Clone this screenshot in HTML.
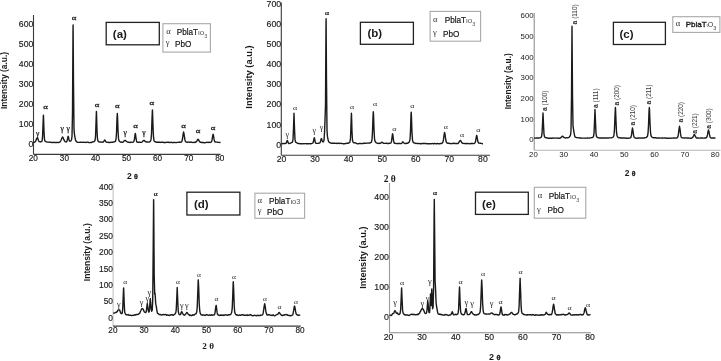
<!DOCTYPE html>
<html><head><meta charset="utf-8"><title>XRD patterns</title>
<style>html,body{margin:0;padding:0;background:#fff;overflow:hidden;}svg{display:block;}</style></head>
<body><svg width="721" height="361" viewBox="0 0 721 361">
<rect width="721" height="361" fill="#fff"/>
<line x1="33.5" y1="15" x2="33.5" y2="154.4" stroke="#3a3a3a" stroke-width="1.1"/>
<line x1="33.5" y1="154.4" x2="220.5" y2="154.4" stroke="#3a3a3a" stroke-width="1.1"/>
<text x="33.3" y="146.84" font-family="'Liberation Sans', Arial, sans-serif" font-size="8.7" font-weight="normal" text-anchor="end" fill="#1a1a1a" stroke="#1a1a1a" stroke-width="0.15" >0</text>
<text x="33.3" y="126.95" font-family="'Liberation Sans', Arial, sans-serif" font-size="8.7" font-weight="normal" text-anchor="end" fill="#1a1a1a" stroke="#1a1a1a" stroke-width="0.15" >100</text>
<text x="33.3" y="107.05" font-family="'Liberation Sans', Arial, sans-serif" font-size="8.7" font-weight="normal" text-anchor="end" fill="#1a1a1a" stroke="#1a1a1a" stroke-width="0.15" >200</text>
<text x="33.3" y="87.14" font-family="'Liberation Sans', Arial, sans-serif" font-size="8.7" font-weight="normal" text-anchor="end" fill="#1a1a1a" stroke="#1a1a1a" stroke-width="0.15" >300</text>
<text x="33.3" y="67.25" font-family="'Liberation Sans', Arial, sans-serif" font-size="8.7" font-weight="normal" text-anchor="end" fill="#1a1a1a" stroke="#1a1a1a" stroke-width="0.15" >400</text>
<text x="33.3" y="47.34" font-family="'Liberation Sans', Arial, sans-serif" font-size="8.7" font-weight="normal" text-anchor="end" fill="#1a1a1a" stroke="#1a1a1a" stroke-width="0.15" >500</text>
<text x="33.3" y="27.44" font-family="'Liberation Sans', Arial, sans-serif" font-size="8.7" font-weight="normal" text-anchor="end" fill="#1a1a1a" stroke="#1a1a1a" stroke-width="0.15" >600</text>
<text x="33.3" y="160.77" font-family="'Liberation Sans', Arial, sans-serif" font-size="8.2" font-weight="normal" text-anchor="middle" fill="#1a1a1a" stroke="#1a1a1a" stroke-width="0.15" >20</text>
<text x="64.4" y="160.77" font-family="'Liberation Sans', Arial, sans-serif" font-size="8.2" font-weight="normal" text-anchor="middle" fill="#1a1a1a" stroke="#1a1a1a" stroke-width="0.15" >30</text>
<text x="95.5" y="160.77" font-family="'Liberation Sans', Arial, sans-serif" font-size="8.2" font-weight="normal" text-anchor="middle" fill="#1a1a1a" stroke="#1a1a1a" stroke-width="0.15" >40</text>
<text x="126.5" y="160.77" font-family="'Liberation Sans', Arial, sans-serif" font-size="8.2" font-weight="normal" text-anchor="middle" fill="#1a1a1a" stroke="#1a1a1a" stroke-width="0.15" >50</text>
<text x="157.6" y="160.77" font-family="'Liberation Sans', Arial, sans-serif" font-size="8.2" font-weight="normal" text-anchor="middle" fill="#1a1a1a" stroke="#1a1a1a" stroke-width="0.15" >60</text>
<text x="188.7" y="160.77" font-family="'Liberation Sans', Arial, sans-serif" font-size="8.2" font-weight="normal" text-anchor="middle" fill="#1a1a1a" stroke="#1a1a1a" stroke-width="0.15" >70</text>
<text x="219.8" y="160.77" font-family="'Liberation Sans', Arial, sans-serif" font-size="8.2" font-weight="normal" text-anchor="middle" fill="#1a1a1a" stroke="#1a1a1a" stroke-width="0.15" >80</text>
<polyline points="33.5,142.17 34.0,142.32 34.5,142.31 35.0,141.91 35.5,141.37 36.0,140.35 36.5,139.06 37.0,137.95 37.2,137.78 37.5,138.01 38.0,139.24 38.5,140.51 39.0,141.49 39.5,141.67 40.0,141.83 40.5,141.94 41.0,141.69 41.5,141.62 42.0,141.03 42.5,137.71 43.0,125.34 43.4,115.18 43.5,116.12 44.0,131.85 44.5,139.53 45.0,141.13 45.5,141.47 46.0,141.7 46.5,141.92 47.0,142.08 47.5,142.08 48.0,142.08 48.5,142.08 49.0,142.18 49.5,142.18 50.0,142.07 50.5,142.33 51.0,142.38 51.5,142.44 52.0,142.3 52.5,142.53 53.0,142.62 53.5,142.38 54.0,142.31 54.5,142.43 55.0,142.49 55.5,142.61 56.0,142.48 56.5,142.55 57.0,142.52 57.5,142.35 58.0,142.34 58.5,142.44 59.0,142.44 59.5,142.22 60.0,141.95 60.5,141.21 61.0,140.26 61.5,139.19 62.0,137.8 62.5,137.0 62.6,136.99 63.0,137.38 63.5,138.66 64.0,139.9 64.5,140.89 65.0,141.5 65.5,141.89 66.0,141.93 66.5,141.75 67.0,141.11 67.5,139.04 68.0,136.62 68.2,136.28 68.5,137.05 69.0,139.67 69.5,141.04 70.0,141.2 70.5,141.05 71.0,140.76 71.5,139.7 72.0,136.54 72.5,113.11 73.0,30.87 73.1,25.0 73.5,82.34 74.0,129.08 74.4,134.01 74.5,134.59 75.0,137.57 75.5,140.07 76.0,141.0 76.5,141.65 77.0,142.0 77.5,142.23 78.0,142.32 78.5,142.42 79.0,142.37 79.5,142.37 80.0,142.32 80.5,142.15 81.0,142.37 81.5,142.4 82.0,142.26 82.5,142.31 83.0,142.33 83.5,142.29 84.0,142.27 84.5,142.33 85.0,142.41 85.5,142.45 86.0,142.41 86.5,142.21 87.0,142.17 87.5,142.13 88.0,142.26 88.5,142.45 89.0,142.54 89.5,142.58 90.0,142.61 90.5,142.4 91.0,142.49 91.5,142.46 92.0,142.19 92.5,141.97 93.0,141.79 93.5,141.91 94.0,141.65 94.5,141.2 95.0,140.54 95.5,137.04 96.0,123.04 96.4,111.44 96.5,112.49 97.0,130.36 97.5,139.03 98.0,141.01 98.5,141.57 99.0,141.79 99.5,141.98 100.0,141.91 100.5,142.02 101.0,142.1 101.5,142.06 102.0,141.99 102.5,142.25 103.0,142.18 103.5,141.76 104.0,141.06 104.5,140.15 104.7,139.97 105.0,140.23 105.5,141.0 106.0,141.9 106.5,142.05 107.0,142.28 107.5,142.39 108.0,142.4 108.5,142.27 109.0,142.49 109.5,142.55 110.0,142.47 110.5,142.3 111.0,142.36 111.5,142.28 112.0,142.29 112.5,142.17 113.0,142.19 113.5,141.93 114.0,141.81 114.5,141.89 115.0,141.72 115.5,141.01 116.0,139.5 116.5,132.98 117.0,118.57 117.3,113.34 117.5,115.86 118.0,130.56 118.5,138.4 119.0,140.79 119.5,141.25 120.0,141.76 120.5,142.12 121.0,142.18 121.5,142.05 122.0,142.22 122.5,142.31 123.0,142.11 123.5,141.68 124.0,141.08 124.5,140.52 125.0,140.27 125.5,140.55 126.0,141.05 126.5,141.46 127.0,141.72 127.5,142.09 128.0,142.14 128.5,142.23 129.0,142.21 129.5,142.42 130.0,142.55 130.5,142.27 131.0,142.17 131.5,142.15 132.0,142.38 132.5,142.41 133.0,142.19 133.5,141.86 134.0,141.2 134.5,138.83 135.0,134.64 135.3,133.42 135.5,134.0 136.0,138.11 136.5,140.97 137.0,142.13 137.5,142.17 138.0,142.34 138.5,142.17 139.0,142.1 139.5,142.35 140.0,142.22 140.5,142.35 141.0,142.33 141.5,142.34 142.0,142.01 142.5,141.56 143.0,140.98 143.5,140.57 144.0,140.32 144.5,140.58 145.0,141.35 145.5,141.58 146.0,141.94 146.5,141.94 147.0,141.88 147.5,141.82 148.0,142.06 148.5,142.13 149.0,142.13 149.5,141.82 150.0,141.57 150.5,141.12 151.0,139.61 151.5,134.11 152.0,119.28 152.4,109.96 152.5,110.7 153.0,126.24 153.5,137.21 154.0,140.55 154.5,141.34 155.0,141.62 155.5,141.99 156.0,142.23 156.5,142.05 157.0,142.22 157.5,142.1 158.0,142.05 158.5,142.33 159.0,142.17 159.5,142.15 160.0,142.45 160.5,142.4 161.0,142.25 161.5,142.19 162.0,142.18 162.5,142.38 163.0,142.24 163.5,142.49 164.0,142.42 164.5,142.62 165.0,142.71 165.5,142.53 166.0,142.4 166.5,142.41 167.0,142.27 167.5,142.4 168.0,142.24 168.5,142.13 169.0,142.45 169.5,142.37 170.0,142.44 170.5,142.43 171.0,142.36 171.5,142.22 172.0,142.48 172.5,142.66 173.0,142.76 173.5,142.48 174.0,142.35 174.5,142.43 175.0,142.62 175.5,142.56 176.0,142.58 176.5,142.58 177.0,142.41 177.5,142.42 178.0,142.32 178.5,142.23 179.0,142.09 179.5,142.07 180.0,142.32 180.5,142.21 181.0,142.14 181.5,141.86 182.0,141.09 182.5,138.73 183.0,135.0 183.5,132.19 183.6,132.08 184.0,133.58 184.5,137.49 185.0,140.2 185.5,141.46 186.0,141.97 186.5,142.18 187.0,142.29 187.5,142.22 188.0,142.1 188.5,142.11 189.0,142.06 189.5,142.22 190.0,142.12 190.5,142.07 191.0,142.26 191.5,142.24 192.0,142.42 192.5,142.41 193.0,142.55 193.5,142.34 194.0,142.35 194.5,142.46 195.0,142.21 195.5,142.34 196.0,141.93 196.5,141.56 197.0,140.88 197.5,139.73 198.0,139.22 198.5,139.66 199.0,140.59 199.5,141.62 200.0,141.99 200.5,142.38 201.0,142.27 201.5,142.5 202.0,142.28 202.5,142.27 203.0,142.5 203.5,142.59 204.0,142.69 204.5,142.73 205.0,142.71 205.5,142.67 206.0,142.45 206.5,142.41 207.0,142.28 207.5,142.42 208.0,142.47 208.5,142.33 209.0,142.16 209.5,142.41 210.0,142.46 210.5,142.35 211.0,142.16 211.5,141.77 212.0,140.16 212.5,137.05 213.0,134.39 213.1,134.27 213.5,135.67 214.0,138.91 214.5,141.05 215.0,141.92 215.5,142.0 216.0,142.11 216.5,142.09 217.0,142.08 217.5,142.12 218.0,142.38 218.5,142.37 219.0,142.36 219.5,142.45 220.0,142.35 220.5,142.2" fill="none" stroke="#1a1a1a" stroke-width="1.4" stroke-linejoin="round"/>
<text x="37.8" y="136.15" font-family="'Liberation Serif', 'Times New Roman', serif" font-size="7.6" font-weight="normal" text-anchor="middle" fill="#1a1a1a" stroke="#1a1a1a" stroke-width="0.25">γ</text>
<text transform="translate(45.5 108.56) scale(1.3 1)" font-family="'Liberation Serif', 'Times New Roman', serif" font-size="6.8" font-weight="normal" text-anchor="middle" fill="#1a1a1a" stroke="#1a1a1a" stroke-width="0.25">α</text>
<text x="62.3" y="131.15" font-family="'Liberation Serif', 'Times New Roman', serif" font-size="7.6" font-weight="normal" text-anchor="middle" fill="#1a1a1a" stroke="#1a1a1a" stroke-width="0.25">γ</text>
<text x="68.3" y="131.15" font-family="'Liberation Serif', 'Times New Roman', serif" font-size="7.6" font-weight="normal" text-anchor="middle" fill="#1a1a1a" stroke="#1a1a1a" stroke-width="0.25">γ</text>
<text transform="translate(74 20.36) scale(1.3 1)" font-family="'Liberation Serif', 'Times New Roman', serif" font-size="6.8" font-weight="normal" text-anchor="middle" fill="#1a1a1a" stroke="#1a1a1a" stroke-width="0.25">α</text>
<text transform="translate(97 107.26) scale(1.3 1)" font-family="'Liberation Serif', 'Times New Roman', serif" font-size="6.8" font-weight="normal" text-anchor="middle" fill="#1a1a1a" stroke="#1a1a1a" stroke-width="0.25">α</text>
<text transform="translate(117.4 107.76) scale(1.3 1)" font-family="'Liberation Serif', 'Times New Roman', serif" font-size="6.8" font-weight="normal" text-anchor="middle" fill="#1a1a1a" stroke="#1a1a1a" stroke-width="0.25">α</text>
<text x="125.3" y="134.75" font-family="'Liberation Serif', 'Times New Roman', serif" font-size="7.6" font-weight="normal" text-anchor="middle" fill="#1a1a1a" stroke="#1a1a1a" stroke-width="0.25">γ</text>
<text transform="translate(135.5 128.46) scale(1.3 1)" font-family="'Liberation Serif', 'Times New Roman', serif" font-size="6.8" font-weight="normal" text-anchor="middle" fill="#1a1a1a" stroke="#1a1a1a" stroke-width="0.25">α</text>
<text x="144" y="134.85" font-family="'Liberation Serif', 'Times New Roman', serif" font-size="7.6" font-weight="normal" text-anchor="middle" fill="#1a1a1a" stroke="#1a1a1a" stroke-width="0.25">γ</text>
<text transform="translate(151.9 105.36) scale(1.3 1)" font-family="'Liberation Serif', 'Times New Roman', serif" font-size="6.8" font-weight="normal" text-anchor="middle" fill="#1a1a1a" stroke="#1a1a1a" stroke-width="0.25">α</text>
<text transform="translate(183.6 127.66) scale(1.3 1)" font-family="'Liberation Serif', 'Times New Roman', serif" font-size="6.8" font-weight="normal" text-anchor="middle" fill="#1a1a1a" stroke="#1a1a1a" stroke-width="0.25">α</text>
<text transform="translate(198 132.56) scale(1.3 1)" font-family="'Liberation Serif', 'Times New Roman', serif" font-size="6.8" font-weight="normal" text-anchor="middle" fill="#1a1a1a" stroke="#1a1a1a" stroke-width="0.25">α</text>
<text transform="translate(213.1 130.36) scale(1.3 1)" font-family="'Liberation Serif', 'Times New Roman', serif" font-size="6.8" font-weight="normal" text-anchor="middle" fill="#1a1a1a" stroke="#1a1a1a" stroke-width="0.25">α</text>
<text transform="translate(6.94 80.5) rotate(-90)" font-family="'Liberation Sans', Arial, sans-serif" font-size="8.45" font-weight="bold" text-anchor="middle" fill="#1a1a1a">Intensity (a.u.)</text>
<text x="132.4" y="179.21" font-family="'Liberation Sans', Arial, sans-serif" font-size="8.6" font-weight="bold" text-anchor="middle" fill="#1a1a1a">2 <tspan font-size="7.05" stroke="#1a1a1a" stroke-width="0.3">θ</tspan></text>
<rect x="106.2" y="22.4" width="53.1" height="22.4" fill="none" stroke="#222" stroke-width="1.3"/>
<text x="112.8" y="37.75" font-family="'Liberation Sans', Arial, sans-serif" font-size="11.5" font-weight="bold" text-anchor="start" fill="#1a1a1a" >(a)</text>
<rect x="162.9" y="23.7" width="47.5" height="28.4" fill="none" stroke="#a8a8a8" stroke-width="1.1"/>
<text transform="translate(168.4 34.33) scale(1.15 1)" font-family="'Liberation Serif', 'Times New Roman', serif" font-size="7.5" text-anchor="middle" fill="#333">α</text>
<text x="176.7" y="35.47" font-family="'Liberation Sans', Arial, sans-serif" font-size="8.2" font-weight="normal" fill="#1a1a1a" stroke="#1a1a1a" stroke-width="0.2">PblaT<tspan font-size="8" font-weight="normal" fill="#555" stroke="none">ιo</tspan><tspan font-size="5.5" dy="2.6" fill="#555" font-weight="normal" stroke="none">3</tspan></text>
<text x="167.7" y="45.36" font-family="'Liberation Serif', 'Times New Roman', serif" font-size="8.5" text-anchor="middle" fill="#333">γ</text>
<text x="175" y="47.17" font-family="'Liberation Sans', Arial, sans-serif" font-size="8.2" fill="#1a1a1a" stroke="#1a1a1a" stroke-width="0.2">PbO</text>
<line x1="281.3" y1="2.5" x2="281.3" y2="155.2" stroke="#3a3a3a" stroke-width="1.1"/>
<line x1="281.3" y1="155.2" x2="490" y2="155.2" stroke="#3a3a3a" stroke-width="1.1"/>
<text x="281.2" y="147.68" font-family="'Liberation Sans', Arial, sans-serif" font-size="8.8" font-weight="normal" text-anchor="end" fill="#1a1a1a" stroke="#1a1a1a" stroke-width="0.15" >0</text>
<text x="281.2" y="127.58" font-family="'Liberation Sans', Arial, sans-serif" font-size="8.8" font-weight="normal" text-anchor="end" fill="#1a1a1a" stroke="#1a1a1a" stroke-width="0.15" >100</text>
<text x="281.2" y="107.48" font-family="'Liberation Sans', Arial, sans-serif" font-size="8.8" font-weight="normal" text-anchor="end" fill="#1a1a1a" stroke="#1a1a1a" stroke-width="0.15" >200</text>
<text x="281.2" y="87.38" font-family="'Liberation Sans', Arial, sans-serif" font-size="8.8" font-weight="normal" text-anchor="end" fill="#1a1a1a" stroke="#1a1a1a" stroke-width="0.15" >300</text>
<text x="281.2" y="67.28" font-family="'Liberation Sans', Arial, sans-serif" font-size="8.8" font-weight="normal" text-anchor="end" fill="#1a1a1a" stroke="#1a1a1a" stroke-width="0.15" >400</text>
<text x="281.2" y="47.18" font-family="'Liberation Sans', Arial, sans-serif" font-size="8.8" font-weight="normal" text-anchor="end" fill="#1a1a1a" stroke="#1a1a1a" stroke-width="0.15" >500</text>
<text x="281.2" y="27.18" font-family="'Liberation Sans', Arial, sans-serif" font-size="8.8" font-weight="normal" text-anchor="end" fill="#1a1a1a" stroke="#1a1a1a" stroke-width="0.15" >600</text>
<text x="281.2" y="7.08" font-family="'Liberation Sans', Arial, sans-serif" font-size="8.8" font-weight="normal" text-anchor="end" fill="#1a1a1a" stroke="#1a1a1a" stroke-width="0.15" >700</text>
<text x="281.5" y="162.21" font-family="'Liberation Sans', Arial, sans-serif" font-size="8.6" font-weight="normal" text-anchor="middle" fill="#1a1a1a" stroke="#1a1a1a" stroke-width="0.15" >20</text>
<text x="315.1" y="162.21" font-family="'Liberation Sans', Arial, sans-serif" font-size="8.6" font-weight="normal" text-anchor="middle" fill="#1a1a1a" stroke="#1a1a1a" stroke-width="0.15" >30</text>
<text x="348.6" y="162.21" font-family="'Liberation Sans', Arial, sans-serif" font-size="8.6" font-weight="normal" text-anchor="middle" fill="#1a1a1a" stroke="#1a1a1a" stroke-width="0.15" >40</text>
<text x="382.2" y="162.21" font-family="'Liberation Sans', Arial, sans-serif" font-size="8.6" font-weight="normal" text-anchor="middle" fill="#1a1a1a" stroke="#1a1a1a" stroke-width="0.15" >50</text>
<text x="415.7" y="162.21" font-family="'Liberation Sans', Arial, sans-serif" font-size="8.6" font-weight="normal" text-anchor="middle" fill="#1a1a1a" stroke="#1a1a1a" stroke-width="0.15" >60</text>
<text x="449.3" y="162.21" font-family="'Liberation Sans', Arial, sans-serif" font-size="8.6" font-weight="normal" text-anchor="middle" fill="#1a1a1a" stroke="#1a1a1a" stroke-width="0.15" >70</text>
<text x="482.9" y="162.21" font-family="'Liberation Sans', Arial, sans-serif" font-size="8.6" font-weight="normal" text-anchor="middle" fill="#1a1a1a" stroke="#1a1a1a" stroke-width="0.15" >80</text>
<polyline points="281.5,143.74 282.0,143.84 282.5,143.54 283.0,143.37 283.5,143.56 284.0,143.63 284.5,143.63 285.0,143.47 285.5,143.45 286.0,143.27 286.5,142.49 287.0,140.94 287.3,140.48 287.5,140.69 288.0,142.16 288.5,143.26 289.0,143.6 289.5,143.52 290.0,143.4 290.5,143.21 291.0,142.94 291.5,142.67 292.0,142.47 292.5,141.83 293.0,139.43 293.5,128.45 294.0,113.31 294.5,128.45 295.0,139.53 295.5,141.8 296.0,142.47 296.5,142.72 297.0,143.01 297.5,143.38 298.0,143.47 298.5,143.34 299.0,143.55 299.5,143.65 300.0,143.68 300.5,143.77 301.0,143.77 301.5,143.79 302.0,143.62 302.5,143.77 303.0,143.86 303.5,143.59 304.0,143.67 304.5,143.7 305.0,143.61 305.5,143.59 306.0,143.56 306.5,143.72 307.0,143.64 307.5,143.72 308.0,143.58 308.5,143.7 309.0,143.78 309.5,143.65 310.0,143.6 310.5,143.71 311.0,143.68 311.5,143.56 312.0,143.34 312.5,143.18 313.0,142.9 313.5,141.26 314.0,138.6 314.3,137.69 314.5,138.14 315.0,140.86 315.5,142.84 316.0,143.36 316.5,143.39 317.0,143.38 317.5,143.41 318.0,143.39 318.5,143.24 319.0,143.06 319.5,142.95 320.0,142.66 320.5,141.41 321.0,139.35 321.4,138.51 321.5,138.56 322.0,140.14 322.5,141.41 323.0,142.05 323.5,141.55 324.0,140.27 324.5,133.02 325.0,119.97 325.5,105.19 326.0,24.57 326.1,18.79 326.5,80.23 327.0,130.4 327.4,135.97 327.5,136.64 328.0,139.33 328.5,141.32 329.0,142.1 329.5,142.55 330.0,142.7 330.5,143.0 331.0,142.96 331.5,143.29 332.0,143.13 332.5,143.33 333.0,143.17 333.5,143.18 334.0,143.41 334.5,143.29 335.0,143.24 335.5,143.41 336.0,143.39 336.5,143.25 337.0,143.54 337.5,143.39 338.0,143.25 338.5,143.29 339.0,143.42 339.5,143.55 340.0,143.38 340.5,143.37 341.0,143.23 341.5,143.32 342.0,143.5 342.5,143.59 343.0,143.71 343.5,143.72 344.0,143.77 344.5,143.73 345.0,143.61 345.5,143.43 346.0,143.48 346.5,143.36 347.0,143.18 347.5,143.18 348.0,143.31 348.5,143.02 349.0,142.9 349.5,142.52 350.0,141.76 350.5,138.23 351.0,124.64 351.4,113.29 351.5,114.3 352.0,131.76 352.5,140.24 353.0,142.1 353.5,142.55 354.0,142.72 354.5,142.81 355.0,142.92 355.5,142.96 356.0,143.21 356.5,143.32 357.0,143.57 357.5,143.71 358.0,143.82 358.5,143.58 359.0,143.53 359.5,143.42 360.0,143.49 360.5,143.54 361.0,143.65 361.5,143.67 362.0,143.5 362.5,143.47 363.0,143.49 363.5,143.29 364.0,143.18 364.5,143.26 365.0,143.18 365.5,143.37 366.0,143.29 366.5,143.17 367.0,143.12 367.5,143.1 368.0,143.06 368.5,143.13 369.0,143.11 369.5,142.98 370.0,142.95 370.5,142.63 371.0,142.48 371.5,141.89 372.0,139.62 372.5,131.77 373.0,116.7 373.3,111.72 373.5,114.06 374.0,128.95 374.5,138.4 375.0,141.24 375.5,142.02 376.0,142.66 376.5,142.86 377.0,143.05 377.5,143.34 378.0,143.39 378.5,143.3 379.0,143.53 379.5,143.42 380.0,143.2 380.5,143.25 381.0,142.83 381.5,142.48 382.0,142.21 382.5,142.55 383.0,142.9 383.5,143.22 384.0,143.33 384.5,143.4 385.0,143.32 385.5,143.42 386.0,143.28 386.5,143.28 387.0,143.3 387.5,143.54 388.0,143.34 388.5,143.47 389.0,143.31 389.5,143.35 390.0,143.25 390.5,143.14 391.0,142.9 391.5,141.42 392.0,137.62 392.5,133.91 392.6,133.74 393.0,135.91 393.5,140.28 394.0,142.67 394.5,143.3 395.0,143.21 395.5,143.38 396.0,143.53 396.5,143.6 397.0,143.55 397.5,143.47 398.0,143.46 398.5,143.59 399.0,143.45 399.5,143.47 400.0,143.45 400.5,143.62 401.0,143.6 401.5,143.47 402.0,142.97 402.5,142.0 402.8,141.79 403.0,141.87 403.5,142.38 404.0,142.95 404.5,143.31 405.0,143.53 405.5,143.5 406.0,143.55 406.5,143.26 407.0,143.17 407.5,143.31 408.0,142.98 408.5,142.77 409.0,142.27 409.5,141.48 410.0,139.43 410.5,130.97 411.0,114.87 411.2,112.09 411.5,117.73 412.0,133.15 412.5,140.17 413.0,142.03 413.5,142.58 414.0,142.9 414.5,142.93 415.0,143.13 415.5,143.42 416.0,143.53 416.5,143.33 417.0,143.39 417.5,143.51 418.0,143.41 418.5,143.6 419.0,143.55 419.5,143.62 420.0,143.54 420.5,143.74 421.0,143.77 421.5,143.71 422.0,143.5 422.5,143.49 423.0,143.33 423.5,143.46 424.0,143.65 424.5,143.48 425.0,143.52 425.5,143.53 426.0,143.5 426.5,143.61 427.0,143.76 427.5,143.76 428.0,143.67 428.5,143.81 429.0,143.64 429.5,143.71 430.0,143.71 430.5,143.76 431.0,143.82 431.5,143.61 432.0,143.63 432.5,143.56 433.0,143.63 433.5,143.79 434.0,143.75 434.5,143.47 435.0,143.49 435.5,143.59 436.0,143.72 436.5,143.7 437.0,143.76 437.5,143.47 438.0,143.66 438.5,143.68 439.0,143.64 439.5,143.72 440.0,143.75 440.5,143.43 441.0,143.5 441.5,143.47 442.0,143.14 442.5,142.91 443.0,141.94 443.5,139.4 444.0,135.68 444.5,132.59 444.6,132.5 445.0,134.05 445.5,137.92 446.0,141.06 446.5,142.5 447.0,142.91 447.5,143.34 448.0,143.22 448.5,143.12 449.0,143.26 449.5,143.49 450.0,143.56 450.5,143.64 451.0,143.59 451.5,143.63 452.0,143.52 452.5,143.43 453.0,143.47 453.5,143.3 454.0,143.22 454.5,143.44 455.0,143.34 455.5,143.5 456.0,143.61 456.5,143.51 457.0,143.54 457.5,143.57 458.0,143.52 458.5,142.97 459.0,142.23 459.5,141.36 460.0,140.66 460.3,140.47 460.5,140.52 461.0,141.16 461.5,142.31 462.0,142.88 462.5,143.26 463.0,143.36 463.5,143.41 464.0,143.61 464.5,143.5 465.0,143.58 465.5,143.56 466.0,143.57 466.5,143.72 467.0,143.48 467.5,143.64 468.0,143.52 468.5,143.59 469.0,143.69 469.5,143.69 470.0,143.58 470.5,143.7 471.0,143.46 471.5,143.53 472.0,143.47 472.5,143.47 473.0,143.59 473.5,143.62 474.0,143.52 474.5,143.25 475.0,142.74 475.5,141.52 476.0,138.68 476.5,135.76 476.7,135.42 477.0,136.23 477.5,139.56 478.0,141.94 478.5,142.9 479.0,143.15 479.5,143.14 480.0,143.27 480.5,143.24 481.0,143.34 481.5,143.34 482.0,143.58 482.5,143.74 483.0,143.64" fill="none" stroke="#1a1a1a" stroke-width="1.4" stroke-linejoin="round"/>
<text x="287.3" y="136.8" font-family="'Liberation Serif', 'Times New Roman', serif" font-size="8" font-weight="normal" text-anchor="middle" fill="#1a1a1a">γ</text>
<text transform="translate(295 109.62) scale(1.2 1)" font-family="'Liberation Serif', 'Times New Roman', serif" font-size="6.6" font-weight="normal" text-anchor="middle" fill="#1a1a1a">α</text>
<text x="314.3" y="133.0" font-family="'Liberation Serif', 'Times New Roman', serif" font-size="8" font-weight="normal" text-anchor="middle" fill="#1a1a1a">γ</text>
<text x="321.4" y="130.1" font-family="'Liberation Serif', 'Times New Roman', serif" font-size="8" font-weight="normal" text-anchor="middle" fill="#1a1a1a">γ</text>
<text transform="translate(327.1 15.12) scale(1.2 1)" font-family="'Liberation Serif', 'Times New Roman', serif" font-size="6.6" font-weight="normal" text-anchor="middle" fill="#1a1a1a" stroke="#1a1a1a" stroke-width="0.25">α</text>
<text transform="translate(352 108.52) scale(1.2 1)" font-family="'Liberation Serif', 'Times New Roman', serif" font-size="6.6" font-weight="normal" text-anchor="middle" fill="#1a1a1a">α</text>
<text transform="translate(375 105.92) scale(1.2 1)" font-family="'Liberation Serif', 'Times New Roman', serif" font-size="6.6" font-weight="normal" text-anchor="middle" fill="#1a1a1a">α</text>
<text transform="translate(394.2 130.72) scale(1.2 1)" font-family="'Liberation Serif', 'Times New Roman', serif" font-size="6.6" font-weight="normal" text-anchor="middle" fill="#1a1a1a">α</text>
<text transform="translate(412.2 108.12) scale(1.2 1)" font-family="'Liberation Serif', 'Times New Roman', serif" font-size="6.6" font-weight="normal" text-anchor="middle" fill="#1a1a1a">α</text>
<text transform="translate(445.9 128.72) scale(1.2 1)" font-family="'Liberation Serif', 'Times New Roman', serif" font-size="6.6" font-weight="normal" text-anchor="middle" fill="#1a1a1a">α</text>
<text transform="translate(462 136.92) scale(1.2 1)" font-family="'Liberation Serif', 'Times New Roman', serif" font-size="6.6" font-weight="normal" text-anchor="middle" fill="#1a1a1a">α</text>
<text transform="translate(478.3 132.02) scale(1.2 1)" font-family="'Liberation Serif', 'Times New Roman', serif" font-size="6.6" font-weight="normal" text-anchor="middle" fill="#1a1a1a">α</text>
<text transform="translate(252.0 77) rotate(-90)" font-family="'Liberation Sans', Arial, sans-serif" font-size="9.35" font-weight="bold" text-anchor="middle" fill="#1a1a1a">Intensity (a.u.)</text>
<text x="389.7" y="181.73" font-family="'Liberation Serif', 'Times New Roman', serif" font-size="9.5" font-weight="bold" text-anchor="middle" fill="#1a1a1a" >2 θ</text>
<rect x="360.4" y="22.3" width="53.0" height="22.0" fill="none" stroke="#222" stroke-width="1.3"/>
<text x="367.4" y="37.45" font-family="'Liberation Sans', Arial, sans-serif" font-size="11.5" font-weight="bold" text-anchor="start" fill="#1a1a1a" >(b)</text>
<rect x="430.1" y="11.4" width="50.5" height="29.8" fill="none" stroke="#a8a8a8" stroke-width="1.1"/>
<text transform="translate(435.3 21.93) scale(1.15 1)" font-family="'Liberation Serif', 'Times New Roman', serif" font-size="7.5" text-anchor="middle" fill="#333">α</text>
<text x="444.7" y="23.07" font-family="'Liberation Sans', Arial, sans-serif" font-size="8.2" font-weight="normal" fill="#1a1a1a" stroke="#1a1a1a" stroke-width="0.2">PblaT<tspan font-size="8" font-weight="normal" fill="#555" stroke="none">ιo</tspan><tspan font-size="5.5" dy="2.6" fill="#555" font-weight="normal" stroke="none">3</tspan></text>
<text x="435" y="35.36" font-family="'Liberation Serif', 'Times New Roman', serif" font-size="8.5" text-anchor="middle" fill="#333">γ</text>
<text x="443" y="37.17" font-family="'Liberation Sans', Arial, sans-serif" font-size="8.2" fill="#1a1a1a" stroke="#1a1a1a" stroke-width="0.2">PbO</text>
<line x1="534.2" y1="13" x2="534.2" y2="150.3" stroke="#909090" stroke-width="1.1"/>
<line x1="534.2" y1="150.3" x2="720.5" y2="150.3" stroke="#b4b4b4" stroke-width="1.1"/>
<text x="533.6" y="142.13" font-family="'Liberation Sans', Arial, sans-serif" font-size="7.8" font-weight="normal" text-anchor="end" fill="#1a1a1a" >0</text>
<text x="533.6" y="121.53" font-family="'Liberation Sans', Arial, sans-serif" font-size="7.8" font-weight="normal" text-anchor="end" fill="#1a1a1a" >100</text>
<text x="533.6" y="100.83" font-family="'Liberation Sans', Arial, sans-serif" font-size="7.8" font-weight="normal" text-anchor="end" fill="#1a1a1a" >200</text>
<text x="533.6" y="80.23" font-family="'Liberation Sans', Arial, sans-serif" font-size="7.8" font-weight="normal" text-anchor="end" fill="#1a1a1a" >300</text>
<text x="533.6" y="59.53" font-family="'Liberation Sans', Arial, sans-serif" font-size="7.8" font-weight="normal" text-anchor="end" fill="#1a1a1a" >400</text>
<text x="533.6" y="38.93" font-family="'Liberation Sans', Arial, sans-serif" font-size="7.8" font-weight="normal" text-anchor="end" fill="#1a1a1a" >500</text>
<text x="533.6" y="18.23" font-family="'Liberation Sans', Arial, sans-serif" font-size="7.8" font-weight="normal" text-anchor="end" fill="#1a1a1a" >600</text>
<text x="533.4" y="157.23" font-family="'Liberation Sans', Arial, sans-serif" font-size="7.8" font-weight="normal" text-anchor="middle" fill="#1a1a1a" >20</text>
<text x="563.7" y="157.23" font-family="'Liberation Sans', Arial, sans-serif" font-size="7.8" font-weight="normal" text-anchor="middle" fill="#1a1a1a" >30</text>
<text x="594.0" y="157.23" font-family="'Liberation Sans', Arial, sans-serif" font-size="7.8" font-weight="normal" text-anchor="middle" fill="#1a1a1a" >40</text>
<text x="624.3" y="157.23" font-family="'Liberation Sans', Arial, sans-serif" font-size="7.8" font-weight="normal" text-anchor="middle" fill="#1a1a1a" >50</text>
<text x="654.6" y="157.23" font-family="'Liberation Sans', Arial, sans-serif" font-size="7.8" font-weight="normal" text-anchor="middle" fill="#1a1a1a" >60</text>
<text x="684.9" y="157.23" font-family="'Liberation Sans', Arial, sans-serif" font-size="7.8" font-weight="normal" text-anchor="middle" fill="#1a1a1a" >70</text>
<text x="715.2" y="157.23" font-family="'Liberation Sans', Arial, sans-serif" font-size="7.8" font-weight="normal" text-anchor="middle" fill="#1a1a1a" >80</text>
<polyline points="534,138.07 534.5,138.11 535.0,138.07 535.5,138.12 536.0,138.14 536.5,138.0 537.0,137.89 537.5,138.04 538.0,137.95 538.5,137.88 539.0,138.02 539.5,137.91 540.0,137.89 540.5,137.66 541.0,137.37 541.5,136.57 542.0,133.99 542.5,124.21 543.0,113.01 543.5,124.21 544.0,134.1 544.5,136.56 545.0,137.33 545.5,137.65 546.0,137.74 546.5,137.73 547.0,137.96 547.5,137.99 548.0,138.09 548.5,138.19 549.0,138.21 549.5,138.29 550.0,138.19 550.5,138.24 551.0,138.18 551.5,138.28 552.0,138.32 552.5,138.13 553.0,138.03 553.5,137.99 554.0,138.17 554.5,138.13 555.0,138.16 555.5,138.09 556.0,138.1 556.5,138.07 557.0,138.04 557.5,138.08 558.0,138.1 558.5,138.19 559.0,138.17 559.5,138.2 560.0,138.13 560.5,137.99 561.0,137.6 561.5,136.94 562.0,136.45 562.5,136.24 563.0,136.46 563.5,137.04 564.0,137.48 564.5,137.65 565.0,137.91 565.5,137.95 566.0,137.86 566.5,137.72 567.0,137.83 567.5,137.9 568.0,137.63 568.5,137.58 569.0,137.31 569.5,136.86 570.0,136.2 570.5,135.03 571.0,130.99 571.5,97.84 572.0,26.2 572.5,94.92 573.0,125.43 573.3,127.99 573.5,129.18 574.0,132.58 574.5,135.19 575.0,136.78 575.5,137.29 576.0,137.43 576.5,137.65 577.0,137.63 577.5,137.67 578.0,137.77 578.5,137.89 579.0,137.85 579.5,137.79 580.0,138.0 580.5,137.97 581.0,138.14 581.5,138.22 582.0,138.13 582.5,138.1 583.0,138.1 583.5,138.14 584.0,138.14 584.5,138.14 585.0,138.15 585.5,138.25 586.0,138.18 586.5,138.12 587.0,138.16 587.5,138.05 588.0,137.99 588.5,138.14 589.0,138.09 589.5,138.06 590.0,137.88 590.5,137.86 591.0,137.86 591.5,137.66 592.0,137.63 592.5,137.5 593.0,137.03 593.5,136.34 594.0,133.35 594.5,122.24 595.0,109.5 595.5,122.24 596.0,133.48 596.5,136.3 597.0,136.98 597.5,137.44 598.0,137.79 598.5,137.8 599.0,137.87 599.5,137.96 600.0,137.94 600.5,137.95 601.0,137.94 601.5,137.96 602.0,138.03 602.5,137.99 603.0,137.99 603.5,138.11 604.0,137.96 604.5,138.03 605.0,138.12 605.5,138.05 606.0,137.98 606.5,138.1 607.0,138.0 607.5,137.93 608.0,137.95 608.5,138.03 609.0,137.89 609.5,137.86 610.0,137.83 610.5,137.92 611.0,137.83 611.5,137.85 612.0,137.59 612.5,137.37 613.0,137.12 613.5,136.63 614.0,134.89 614.5,128.81 615.0,115.23 615.4,107.49 615.5,108.08 616.0,121.4 616.5,132.19 617.0,135.74 617.5,136.74 618.0,137.3 618.5,137.58 619.0,137.81 619.5,137.82 620.0,137.78 620.5,137.81 621.0,137.98 621.5,137.94 622.0,137.94 622.5,137.96 623.0,137.98 623.5,137.99 624.0,138.14 624.5,138.02 625.0,137.9 625.5,138.1 626.0,138.19 626.5,138.28 627.0,138.17 627.5,138.24 628.0,138.27 628.5,138.08 629.0,138.09 629.5,138.09 630.0,137.99 630.5,137.75 631.0,137.02 631.5,134.89 632.0,130.82 632.5,127.96 633.0,130.82 633.5,134.83 634.0,137.04 634.5,137.54 635.0,137.89 635.5,138.01 636.0,138.15 636.5,138.22 637.0,138.27 637.5,138.21 638.0,138.02 638.5,138.11 639.0,138.0 639.5,137.97 640.0,138.05 640.5,138.06 641.0,138.02 641.5,138.14 642.0,138.12 642.5,138.02 643.0,137.92 643.5,138.01 644.0,137.94 644.5,137.95 645.0,137.79 645.5,137.6 646.0,137.48 646.5,137.34 647.0,136.82 647.5,136.06 648.0,133.47 648.5,125.5 649.0,111.75 649.3,107.5 649.5,109.51 650.0,122.96 650.5,132.23 651.0,135.6 651.5,136.63 652.0,137.15 652.5,137.42 653.0,137.61 653.5,137.82 654.0,137.74 654.5,137.72 655.0,137.74 655.5,137.75 656.0,137.75 656.5,138.01 657.0,138.14 657.5,138.01 658.0,138.05 658.5,138.02 659.0,138.01 659.5,138.01 660.0,138.1 660.5,138.13 661.0,138.1 661.5,138.03 662.0,138.02 662.5,137.96 663.0,138.05 663.5,138.15 664.0,138.11 664.5,138.01 665.0,137.97 665.5,138.01 666.0,138.09 666.5,138.19 667.0,138.14 667.5,138.23 668.0,138.23 668.5,138.18 669.0,138.13 669.5,138.13 670.0,138.19 670.5,138.14 671.0,138.19 671.5,138.15 672.0,138.07 672.5,138.09 673.0,138.15 673.5,138.0 674.0,138.0 674.5,137.99 675.0,138.1 675.5,138.16 676.0,138.01 676.5,138.02 677.0,137.9 677.5,137.41 678.0,136.29 678.5,133.38 679.0,129.02 679.5,126.31 680.0,129.04 680.5,133.65 681.0,136.42 681.5,137.53 682.0,137.84 682.5,137.82 683.0,137.94 683.5,137.86 684.0,137.85 684.5,138.02 685.0,137.93 685.5,137.89 686.0,137.86 686.5,138.07 687.0,138.0 687.5,137.91 688.0,138.09 688.5,137.99 689.0,138.13 689.5,138.17 690.0,138.22 690.5,138.28 691.0,138.2 691.5,138.18 692.0,137.87 692.5,137.67 693.0,136.99 693.5,135.94 694.0,134.74 694.3,134.51 694.5,134.64 695.0,135.57 695.5,136.69 696.0,137.49 696.5,137.94 697.0,137.97 697.5,137.94 698.0,137.94 698.5,138.05 699.0,138.15 699.5,138.11 700.0,138.08 700.5,138.07 701.0,138.05 701.5,138.05 702.0,137.96 702.5,138.01 703.0,138.17 703.5,138.11 704.0,138.15 704.5,137.99 705.0,138.03 705.5,138.03 706.0,137.93 706.5,137.59 707.0,136.68 707.5,134.7 708.0,131.73 708.5,130.0 709.0,131.68 709.5,134.64 710.0,136.77 710.5,137.61 711.0,137.86 711.5,138.03 712.0,137.97 712.5,137.96 713.0,137.94 713.5,138.04 714.0,138.03 714.5,138.0 715.0,138.11 715.5,138.26" fill="none" stroke="#1a1a1a" stroke-width="1.4" stroke-linejoin="round"/>
<text transform="translate(511.08 81.3) rotate(-90)" font-family="'Liberation Sans', Arial, sans-serif" font-size="8.25" font-weight="bold" text-anchor="middle" fill="#1a1a1a">Intensity (a.u.)</text>
<text x="630" y="175.64" font-family="'Liberation Sans', Arial, sans-serif" font-size="8.4" font-weight="bold" text-anchor="middle" fill="#1a1a1a">2 <tspan font-size="6.89" stroke="#1a1a1a" stroke-width="0.3">θ</tspan></text>
<rect x="613.4" y="22.3" width="52.0" height="22.2" fill="none" stroke="#222" stroke-width="1.3"/>
<text x="619.5" y="38.05" font-family="'Liberation Sans', Arial, sans-serif" font-size="11.5" font-weight="bold" text-anchor="start" fill="#1a1a1a" >(c)</text>
<rect x="672.8" y="16.7" width="47.1" height="15.7" fill="none" stroke="#a8a8a8" stroke-width="1.1"/>
<text transform="translate(678 26.23) scale(1.15 1)" font-family="'Liberation Serif', 'Times New Roman', serif" font-size="7.5" text-anchor="middle" fill="#333">α</text>
<text x="685.7" y="27.3" font-family="'Liberation Sans', Arial, sans-serif" font-size="8" font-weight="normal" fill="#1a1a1a" stroke="#1a1a1a" stroke-width="0.35">PblaT<tspan font-size="5.5" fill="#444" stroke="none" dy="0">ι</tspan><tspan font-size="7" fill="#333" stroke="none" dy="0">O</tspan><tspan font-size="5.5" fill="#444" stroke="none" dy="2.6">3</tspan></text>
<line x1="113.1" y1="183.3" x2="113.1" y2="326.1" stroke="#c4c4c4" stroke-width="1.1"/>
<line x1="113.1" y1="326.1" x2="300.8" y2="326.1" stroke="#3a3a3a" stroke-width="1.1"/>
<text x="113" y="320.74" font-family="'Liberation Sans', Arial, sans-serif" font-size="8.4" font-weight="normal" text-anchor="end" fill="#1a1a1a" stroke="#1a1a1a" stroke-width="0.15" >0</text>
<text x="113" y="304.34" font-family="'Liberation Sans', Arial, sans-serif" font-size="8.4" font-weight="normal" text-anchor="end" fill="#1a1a1a" stroke="#1a1a1a" stroke-width="0.15" >50</text>
<text x="113" y="287.94" font-family="'Liberation Sans', Arial, sans-serif" font-size="8.4" font-weight="normal" text-anchor="end" fill="#1a1a1a" stroke="#1a1a1a" stroke-width="0.15" >100</text>
<text x="113" y="271.54" font-family="'Liberation Sans', Arial, sans-serif" font-size="8.4" font-weight="normal" text-anchor="end" fill="#1a1a1a" stroke="#1a1a1a" stroke-width="0.15" >150</text>
<text x="113" y="255.14" font-family="'Liberation Sans', Arial, sans-serif" font-size="8.4" font-weight="normal" text-anchor="end" fill="#1a1a1a" stroke="#1a1a1a" stroke-width="0.15" >200</text>
<text x="113" y="238.84" font-family="'Liberation Sans', Arial, sans-serif" font-size="8.4" font-weight="normal" text-anchor="end" fill="#1a1a1a" stroke="#1a1a1a" stroke-width="0.15" >250</text>
<text x="113" y="222.44" font-family="'Liberation Sans', Arial, sans-serif" font-size="8.4" font-weight="normal" text-anchor="end" fill="#1a1a1a" stroke="#1a1a1a" stroke-width="0.15" >300</text>
<text x="113" y="206.04" font-family="'Liberation Sans', Arial, sans-serif" font-size="8.4" font-weight="normal" text-anchor="end" fill="#1a1a1a" stroke="#1a1a1a" stroke-width="0.15" >350</text>
<text x="113" y="189.64" font-family="'Liberation Sans', Arial, sans-serif" font-size="8.4" font-weight="normal" text-anchor="end" fill="#1a1a1a" stroke="#1a1a1a" stroke-width="0.15" >400</text>
<text x="112.9" y="333.37" font-family="'Liberation Sans', Arial, sans-serif" font-size="8.2" font-weight="normal" text-anchor="middle" fill="#1a1a1a" stroke="#1a1a1a" stroke-width="0.15" >20</text>
<text x="144.1" y="333.37" font-family="'Liberation Sans', Arial, sans-serif" font-size="8.2" font-weight="normal" text-anchor="middle" fill="#1a1a1a" stroke="#1a1a1a" stroke-width="0.15" >30</text>
<text x="175.3" y="333.37" font-family="'Liberation Sans', Arial, sans-serif" font-size="8.2" font-weight="normal" text-anchor="middle" fill="#1a1a1a" stroke="#1a1a1a" stroke-width="0.15" >40</text>
<text x="206.5" y="333.37" font-family="'Liberation Sans', Arial, sans-serif" font-size="8.2" font-weight="normal" text-anchor="middle" fill="#1a1a1a" stroke="#1a1a1a" stroke-width="0.15" >50</text>
<text x="237.7" y="333.37" font-family="'Liberation Sans', Arial, sans-serif" font-size="8.2" font-weight="normal" text-anchor="middle" fill="#1a1a1a" stroke="#1a1a1a" stroke-width="0.15" >60</text>
<text x="268.9" y="333.37" font-family="'Liberation Sans', Arial, sans-serif" font-size="8.2" font-weight="normal" text-anchor="middle" fill="#1a1a1a" stroke="#1a1a1a" stroke-width="0.15" >70</text>
<text x="300.1" y="333.37" font-family="'Liberation Sans', Arial, sans-serif" font-size="8.2" font-weight="normal" text-anchor="middle" fill="#1a1a1a" stroke="#1a1a1a" stroke-width="0.15" >80</text>
<polyline points="113.2,313.36 113.7,313.08 114.2,313.09 114.7,312.83 115.2,312.47 115.7,312.34 116.2,312.44 116.7,312.11 117.2,311.59 117.7,310.6 118.2,310.11 118.7,309.87 119.2,309.97 119.7,309.91 120.2,311.91 120.7,312.96 121.2,313.54 121.7,313.71 122.2,313.17 122.7,309.08 123.2,296.67 123.6,287.91 123.7,288.69 124.2,303.35 124.7,312.1 125.2,313.66 125.7,314.35 126.2,314.76 126.7,314.86 127.2,314.67 127.7,314.79 128.2,314.57 128.7,315.12 129.2,315.39 129.7,315.31 130.2,315.06 130.7,315.4 131.2,315.34 131.7,315.54 132.2,315.64 132.7,315.42 133.2,315.21 133.7,315.23 134.2,315.1 134.7,314.79 135.2,314.72 135.7,315.06 136.2,314.64 136.7,314.35 137.2,314.6 137.7,314.4 138.2,314.35 138.7,314.07 139.2,313.5 139.7,313.29 140.2,312.03 140.7,310.94 141.2,309.66 141.7,308.99 142.2,308.57 142.3,308.55 142.7,308.79 143.2,309.36 143.7,310.43 144.2,311.78 144.7,312.2 145.2,312.51 145.7,312.58 146.2,311.75 146.7,308.0 147.2,303.74 147.3,303.55 147.7,305.84 148.2,310.32 148.7,312.16 149.2,311.69 149.7,306.66 150.2,299.07 150.3,298.7 150.7,302.84 151.2,309.59 151.7,311.23 152.2,310.26 152.7,301.38 153.2,249.04 153.6,199.59 153.7,203.9 154.2,274.86 154.7,294.2 155.0,292.96 155.2,295.24 155.7,303.67 156.2,305.94 156.7,309.13 157.2,312.31 157.7,313.43 158.2,313.73 158.7,313.93 159.2,314.55 159.7,314.6 160.2,314.58 160.7,314.43 161.2,315.06 161.7,315.0 162.2,314.79 162.7,314.56 163.2,314.42 163.7,314.43 164.2,314.85 164.7,314.68 165.2,314.49 165.7,314.74 166.2,314.7 166.7,315.28 167.2,314.92 167.7,315.03 168.2,315.29 168.7,315.16 169.2,315.54 169.7,315.35 170.2,315.05 170.7,314.99 171.2,314.65 171.7,314.75 172.2,314.65 172.7,315.08 173.2,315.26 173.7,315.06 174.2,314.5 174.7,314.22 175.2,313.82 175.7,313.0 176.2,310.1 176.7,299.86 177.2,287.54 177.7,299.74 178.2,310.58 178.7,313.49 179.2,314.56 179.7,314.56 180.2,314.72 180.7,314.01 181.2,312.43 181.7,311.59 182.2,312.46 182.7,313.62 183.2,314.22 183.7,314.89 184.2,315.17 184.7,315.2 185.2,314.48 185.7,313.93 186.2,313.36 186.7,312.52 186.9,312.49 187.2,312.58 187.7,313.42 188.2,314.17 188.7,314.41 189.2,315.09 189.7,315.48 190.2,314.98 190.7,315.38 191.2,315.6 191.7,315.48 192.2,314.9 192.7,315.22 193.2,314.76 193.7,315.12 194.2,315.04 194.7,314.42 195.2,314.01 195.7,313.93 196.2,313.43 196.7,312.11 197.2,307.39 197.7,294.43 198.2,280.33 198.3,279.82 198.7,287.69 199.2,303.05 199.7,310.36 200.2,313.13 200.7,314.15 201.2,314.76 201.7,314.86 202.2,315.2 202.7,314.88 203.2,315.08 203.7,314.93 204.2,315.3 204.7,315.44 205.2,315.29 205.7,315.25 206.2,314.83 206.7,314.58 207.2,314.89 207.7,314.99 208.2,315.35 208.7,315.36 209.2,314.99 209.7,314.95 210.2,315.25 210.7,315.23 211.2,314.8 211.7,315.2 212.2,315.41 212.7,314.93 213.2,314.98 213.7,314.83 214.2,314.93 214.7,314.07 215.2,311.62 215.7,307.43 216.1,305.36 216.2,305.43 216.7,309.27 217.2,312.92 217.7,314.72 218.2,315.02 218.7,315.03 219.2,315.37 219.7,315.51 220.2,315.03 220.7,315.39 221.2,315.06 221.7,314.95 222.2,315.31 222.7,315.19 223.2,315.42 223.7,315.05 224.2,315.39 224.7,315.04 225.2,314.8 225.7,314.92 226.2,314.86 226.7,314.98 227.2,315.33 227.7,315.36 228.2,314.79 228.7,314.67 229.2,314.73 229.7,314.65 230.2,314.68 230.7,314.34 231.2,313.49 231.7,312.26 232.2,308.67 232.7,296.82 233.2,282.39 233.3,281.8 233.7,290.27 234.2,305.45 234.7,311.94 235.2,313.51 235.7,314.48 236.2,314.66 236.7,315.13 237.2,314.93 237.7,315.28 238.2,315.43 238.7,315.4 239.2,315.25 239.7,314.92 240.2,315.24 240.7,315.1 241.2,315.27 241.7,314.95 242.2,314.72 242.7,314.63 243.2,315.11 243.7,314.9 244.2,315.35 244.7,315.2 245.2,315.27 245.7,315.14 246.2,315.28 246.7,314.94 247.2,314.98 247.7,315.44 248.2,315.1 248.7,315.28 249.2,315.13 249.7,315.02 250.2,314.73 250.7,314.55 251.2,315.19 251.7,315.48 252.2,315.62 252.7,315.72 253.2,315.89 253.7,315.36 254.2,315.38 254.7,315.31 255.2,315.34 255.7,315.64 256.2,315.68 256.7,315.87 257.2,315.3 257.7,315.37 258.2,315.44 258.7,315.52 259.2,315.46 259.7,315.58 260.2,315.22 260.7,315.47 261.2,315.17 261.7,315.09 262.2,315.14 262.7,314.61 263.2,312.9 263.7,309.76 264.2,305.93 264.7,303.79 265.2,306.05 265.7,310.45 266.2,313.05 266.7,314.26 267.2,315.0 267.7,314.91 268.2,314.93 268.7,314.63 269.2,314.59 269.7,314.86 270.2,315.14 270.7,315.26 271.2,315.12 271.7,315.52 272.2,315.49 272.7,315.1 273.2,314.8 273.7,315.34 274.2,315.67 274.7,315.81 275.2,315.63 275.7,315.28 276.2,314.86 276.7,314.67 277.2,314.34 277.7,314.36 278.2,313.86 278.7,312.77 279.1,312.4 279.2,312.38 279.7,312.92 280.2,314.02 280.7,314.35 281.2,315.04 281.7,315.3 282.2,315.32 282.7,315.65 283.2,315.29 283.7,315.28 284.2,314.99 284.7,314.76 285.2,314.57 285.7,314.69 286.2,314.6 286.7,314.5 287.2,315.18 287.7,315.02 288.2,315.4 288.7,315.48 289.2,315.54 289.7,315.5 290.2,315.71 290.7,315.75 291.2,315.62 291.7,315.35 292.2,315.17 292.7,314.67 293.2,313.1 293.7,310.15 294.2,306.74 294.5,306.03 294.7,306.37 295.2,309.0 295.7,311.92 296.2,314.1 296.7,314.55 297.2,314.76 297.7,315.08 298.2,315.42 298.7,315.19 299.2,315.11 299.7,315.1 300.2,314.77" fill="none" stroke="#1a1a1a" stroke-width="1.4" stroke-linejoin="round"/>
<text x="118.7" y="306.62" font-family="'Liberation Serif', 'Times New Roman', serif" font-size="8.2" font-weight="normal" text-anchor="middle" fill="#1a1a1a">γ</text>
<text transform="translate(125.2 284.03) scale(1.2 1)" font-family="'Liberation Serif', 'Times New Roman', serif" font-size="6.2" font-weight="normal" text-anchor="middle" fill="#1a1a1a">α</text>
<text x="141.6" y="305.22" font-family="'Liberation Serif', 'Times New Roman', serif" font-size="8.2" font-weight="normal" text-anchor="middle" fill="#1a1a1a">γ</text>
<text x="147.3" y="300.82" font-family="'Liberation Serif', 'Times New Roman', serif" font-size="8.2" font-weight="normal" text-anchor="middle" fill="#1a1a1a">γ</text>
<text x="149.3" y="294.62" font-family="'Liberation Serif', 'Times New Roman', serif" font-size="8.2" font-weight="normal" text-anchor="middle" fill="#1a1a1a">γ</text>
<text transform="translate(155.6 196.23) scale(1.2 1)" font-family="'Liberation Serif', 'Times New Roman', serif" font-size="6.2" font-weight="normal" text-anchor="middle" fill="#1a1a1a" stroke="#1a1a1a" stroke-width="0.25">α</text>
<text transform="translate(178 284.43) scale(1.2 1)" font-family="'Liberation Serif', 'Times New Roman', serif" font-size="6.2" font-weight="normal" text-anchor="middle" fill="#1a1a1a">α</text>
<text x="181.7" y="308.22" font-family="'Liberation Serif', 'Times New Roman', serif" font-size="8.2" font-weight="normal" text-anchor="middle" fill="#1a1a1a">γ</text>
<text x="186.9" y="308.22" font-family="'Liberation Serif', 'Times New Roman', serif" font-size="8.2" font-weight="normal" text-anchor="middle" fill="#1a1a1a">γ</text>
<text transform="translate(199 277.23) scale(1.2 1)" font-family="'Liberation Serif', 'Times New Roman', serif" font-size="6.2" font-weight="normal" text-anchor="middle" fill="#1a1a1a">α</text>
<text transform="translate(216.5 300.63) scale(1.2 1)" font-family="'Liberation Serif', 'Times New Roman', serif" font-size="6.2" font-weight="normal" text-anchor="middle" fill="#1a1a1a">α</text>
<text transform="translate(234 279.03) scale(1.2 1)" font-family="'Liberation Serif', 'Times New Roman', serif" font-size="6.2" font-weight="normal" text-anchor="middle" fill="#1a1a1a">α</text>
<text transform="translate(265 300.63) scale(1.2 1)" font-family="'Liberation Serif', 'Times New Roman', serif" font-size="6.2" font-weight="normal" text-anchor="middle" fill="#1a1a1a">α</text>
<text transform="translate(279.5 308.83) scale(1.2 1)" font-family="'Liberation Serif', 'Times New Roman', serif" font-size="6.2" font-weight="normal" text-anchor="middle" fill="#1a1a1a">α</text>
<text transform="translate(296 304.33) scale(1.2 1)" font-family="'Liberation Serif', 'Times New Roman', serif" font-size="6.2" font-weight="normal" text-anchor="middle" fill="#1a1a1a">α</text>
<text transform="translate(89.86 252.2) rotate(-90)" font-family="'Liberation Sans', Arial, sans-serif" font-size="8.55" font-weight="bold" text-anchor="middle" fill="#1a1a1a">Intensity (a.u.)</text>
<text x="208.2" y="348.94" font-family="'Liberation Serif', 'Times New Roman', serif" font-size="9.2" font-weight="bold" text-anchor="middle" fill="#1a1a1a" >2 θ</text>
<rect x="186.9" y="192.2" width="53.0" height="22.8" fill="none" stroke="#222" stroke-width="1.3"/>
<text x="194" y="207.75" font-family="'Liberation Sans', Arial, sans-serif" font-size="11.5" font-weight="bold" text-anchor="start" fill="#1a1a1a" >(d)</text>
<rect x="254.9" y="193.2" width="49.7" height="25.1" fill="none" stroke="#a8a8a8" stroke-width="1.1"/>
<text transform="translate(259.7 202.72) scale(1.15 1)" font-family="'Liberation Serif', 'Times New Roman', serif" font-size="7.5" text-anchor="middle" fill="#333">α</text>
<text x="269" y="203.87" font-family="'Liberation Sans', Arial, sans-serif" font-size="8.2" font-weight="normal" fill="#1a1a1a" stroke="#1a1a1a" stroke-width="0.2">PblaT<tspan font-size="7.5" font-weight="normal" fill="#555" stroke="none">ιo3</tspan><tspan font-size="5.5" dy="2.6" fill="#555" font-weight="normal" stroke="none"></tspan></text>
<text x="259.7" y="213.06" font-family="'Liberation Serif', 'Times New Roman', serif" font-size="8.5" text-anchor="middle" fill="#333">γ</text>
<text x="267" y="214.87" font-family="'Liberation Sans', Arial, sans-serif" font-size="8.2" fill="#1a1a1a" stroke="#1a1a1a" stroke-width="0.2">PbO</text>
<line x1="389.5" y1="183" x2="389.5" y2="332.8" stroke="#9a9a9a" stroke-width="1.1"/>
<line x1="389.5" y1="332.8" x2="591" y2="332.8" stroke="#8a8a8a" stroke-width="1.1"/>
<text x="389" y="319.88" font-family="'Liberation Sans', Arial, sans-serif" font-size="8.8" font-weight="normal" text-anchor="end" fill="#1a1a1a" stroke="#1a1a1a" stroke-width="0.15" >0</text>
<text x="389" y="289.98" font-family="'Liberation Sans', Arial, sans-serif" font-size="8.8" font-weight="normal" text-anchor="end" fill="#1a1a1a" stroke="#1a1a1a" stroke-width="0.15" >100</text>
<text x="389" y="259.98" font-family="'Liberation Sans', Arial, sans-serif" font-size="8.8" font-weight="normal" text-anchor="end" fill="#1a1a1a" stroke="#1a1a1a" stroke-width="0.15" >200</text>
<text x="389" y="230.08" font-family="'Liberation Sans', Arial, sans-serif" font-size="8.8" font-weight="normal" text-anchor="end" fill="#1a1a1a" stroke="#1a1a1a" stroke-width="0.15" >300</text>
<text x="389" y="200.18" font-family="'Liberation Sans', Arial, sans-serif" font-size="8.8" font-weight="normal" text-anchor="end" fill="#1a1a1a" stroke="#1a1a1a" stroke-width="0.15" >400</text>
<text x="388.5" y="339.71" font-family="'Liberation Sans', Arial, sans-serif" font-size="8.6" font-weight="normal" text-anchor="middle" fill="#1a1a1a" stroke="#1a1a1a" stroke-width="0.15" >20</text>
<text x="422.1" y="339.71" font-family="'Liberation Sans', Arial, sans-serif" font-size="8.6" font-weight="normal" text-anchor="middle" fill="#1a1a1a" stroke="#1a1a1a" stroke-width="0.15" >30</text>
<text x="455.7" y="339.71" font-family="'Liberation Sans', Arial, sans-serif" font-size="8.6" font-weight="normal" text-anchor="middle" fill="#1a1a1a" stroke="#1a1a1a" stroke-width="0.15" >40</text>
<text x="489.3" y="339.71" font-family="'Liberation Sans', Arial, sans-serif" font-size="8.6" font-weight="normal" text-anchor="middle" fill="#1a1a1a" stroke="#1a1a1a" stroke-width="0.15" >50</text>
<text x="522.9" y="339.71" font-family="'Liberation Sans', Arial, sans-serif" font-size="8.6" font-weight="normal" text-anchor="middle" fill="#1a1a1a" stroke="#1a1a1a" stroke-width="0.15" >60</text>
<text x="556.5" y="339.71" font-family="'Liberation Sans', Arial, sans-serif" font-size="8.6" font-weight="normal" text-anchor="middle" fill="#1a1a1a" stroke="#1a1a1a" stroke-width="0.15" >70</text>
<text x="590.1" y="339.71" font-family="'Liberation Sans', Arial, sans-serif" font-size="8.6" font-weight="normal" text-anchor="middle" fill="#1a1a1a" stroke="#1a1a1a" stroke-width="0.15" >80</text>
<polyline points="389.6,315.03 390.1,315.17 390.6,315.3 391.1,315.48 391.6,315.42 392.1,314.31 392.6,313.63 393.1,313.47 393.6,313.44 394.1,312.49 394.6,311.03 394.9,310.6 395.1,310.74 395.6,311.65 396.1,312.79 396.6,313.33 397.1,313.05 397.6,312.97 398.1,314.13 398.6,314.54 399.1,314.55 399.6,313.86 400.1,313.42 400.6,310.24 401.1,299.91 401.6,287.84 402.1,299.8 402.6,310.38 403.1,313.0 403.6,313.6 404.1,314.47 404.6,314.89 405.1,314.68 405.6,315.09 406.1,315.01 406.6,315.08 407.1,314.74 407.6,315.14 408.1,315.17 408.6,315.42 409.1,315.51 409.6,315.08 410.1,314.88 410.6,314.6 411.1,314.41 411.6,314.23 412.1,314.31 412.6,314.6 413.1,314.29 413.6,314.63 414.1,314.56 414.6,314.49 415.1,314.84 415.6,314.77 416.1,314.58 416.6,314.57 417.1,314.7 417.6,314.19 418.1,314.52 418.6,313.77 419.1,313.64 419.6,313.27 420.1,311.94 420.6,311.26 421.1,310.06 421.6,309.23 422.1,308.58 422.3,308.48 422.6,308.58 423.1,309.29 423.6,309.96 424.1,311.26 424.6,312.48 425.1,313.37 425.6,313.46 426.1,313.39 426.6,312.7 427.1,309.16 427.6,302.08 427.8,301.02 428.1,303.31 428.6,310.33 429.1,312.49 429.6,312.43 430.1,303.9 430.5,293.96 430.6,294.76 431.1,305.48 431.6,293.04 431.8,289.07 432.1,296.77 432.6,308.76 433.1,307.38 433.6,287.44 434.1,216.02 434.3,199.38 434.6,229.6 435.1,281.28 435.4,285.98 435.6,290.5 436.1,303.07 436.5,306.02 436.6,306.48 437.1,309.37 437.6,312.21 438.1,313.76 438.6,314.11 439.1,314.24 439.6,314.02 440.1,314.6 440.6,314.26 441.1,314.43 441.6,314.82 442.1,314.5 442.6,314.79 443.1,315.15 443.6,315.11 444.1,315.22 444.6,314.75 445.1,314.73 445.6,314.49 446.1,314.9 446.6,314.71 447.1,314.72 447.6,315.17 448.1,315.31 448.6,315.5 449.1,315.18 449.6,315.01 450.1,315.08 450.6,314.87 451.1,314.36 451.6,313.36 452.1,311.95 452.3,311.74 452.6,312.29 453.1,314.2 453.6,314.86 454.1,314.88 454.6,314.68 455.1,314.33 455.6,314.24 456.1,314.54 456.6,314.71 457.1,314.27 457.6,314.09 458.1,313.26 458.6,309.29 459.1,296.11 459.5,286.98 459.6,287.69 460.1,302.62 460.6,311.19 461.1,313.33 461.6,314.17 462.1,314.52 462.6,314.4 463.1,314.83 463.6,314.82 464.1,314.68 464.6,313.8 465.1,312.5 465.6,309.73 466,308.4 466.1,308.5 466.6,311.23 467.1,313.63 467.6,314.68 468.1,314.6 468.6,314.67 469.1,314.65 469.6,314.45 470.1,313.53 470.6,312.9 471.1,311.86 471.5,311.59 471.6,311.65 472.1,312.8 472.6,313.37 473.1,313.98 473.6,314.11 474.1,314.68 474.6,315.06 475.1,314.89 475.6,314.93 476.1,314.96 476.6,314.96 477.1,314.48 477.6,314.62 478.1,314.47 478.6,314.32 479.1,313.83 479.6,313.3 480.1,311.98 480.6,307.06 481.1,294.5 481.6,280.66 481.7,280.03 482.1,287.86 482.6,302.79 483.1,310.12 483.6,312.75 484.1,313.67 484.6,313.67 485.1,314.02 485.6,314.04 486.1,313.93 486.6,313.94 487.1,314.1 487.6,314.08 488.1,314.08 488.6,313.93 489.1,314.11 489.6,314.01 490.1,313.9 490.6,313.56 491.1,313.09 491.5,313.04 491.6,312.95 492.1,313.06 492.6,313.48 493.1,313.98 493.6,314.07 494.1,314.68 494.6,314.66 495.1,314.37 495.6,314.65 496.1,314.4 496.6,314.6 497.1,314.55 497.6,314.7 498.1,315.06 498.6,315.13 499.1,314.75 499.6,314.4 500.1,312.54 500.6,308.67 501,306.85 501.1,307.02 501.6,310.18 502.1,313.54 502.6,314.93 503.1,315.07 503.6,314.87 504.1,315.18 504.6,314.65 505.1,314.41 505.6,314.64 506.1,314.81 506.6,314.53 507.1,314.74 507.6,315.07 508.1,314.84 508.6,314.69 509.1,314.34 509.6,313.98 510.1,313.98 510.6,313.14 511.1,312.58 511.5,312.41 511.6,312.39 512.1,312.75 512.6,313.77 513.1,314.19 513.6,314.4 514.1,314.41 514.6,314.9 515.1,314.76 515.6,314.47 516.1,314.39 516.6,313.98 517.1,314.01 517.6,313.67 518.1,312.94 518.6,311.68 519.1,306.27 519.6,291.24 520.1,278.28 520.6,291.24 521.1,306.17 521.6,311.96 522.1,313.2 522.6,313.63 523.1,313.76 523.6,314.52 524.1,314.43 524.6,314.64 525.1,314.68 525.6,314.84 526.1,314.92 526.6,315.08 527.1,314.69 527.6,314.97 528.1,314.77 528.6,314.85 529.1,314.74 529.6,314.64 530.1,314.77 530.6,314.8 531.1,314.74 531.6,315.01 532.1,315.05 532.6,314.63 533.1,314.56 533.6,314.67 534.1,315.11 534.6,315.35 535.1,315.23 535.6,314.72 536.1,315.03 536.6,314.94 537.1,315.0 537.6,315.15 538.1,315.17 538.6,315.06 539.1,315.34 539.6,315.09 540.1,314.94 540.6,315.22 541.1,314.86 541.6,314.72 542.1,315.06 542.6,314.64 543.1,315.0 543.6,315.09 544.1,314.89 544.6,314.53 545.1,314.31 545.6,313.61 546.1,312.33 546.2,312.29 546.6,312.75 547.1,313.8 547.6,314.34 548.1,314.35 548.6,314.62 549.1,314.93 549.6,314.5 550.1,314.34 550.6,314.67 551.1,314.74 551.6,314.38 552.1,312.72 552.6,310.31 553.1,306.44 553.6,304.23 554.1,306.47 554.6,310.24 555.1,313.19 555.6,314.03 556.1,314.58 556.6,315.06 557.1,315.15 557.6,314.75 558.1,314.64 558.6,315.08 559.1,314.73 559.6,314.89 560.1,314.83 560.6,314.6 561.1,314.83 561.6,314.51 562.1,314.36 562.6,314.5 563.1,314.33 563.6,314.22 564.1,314.56 564.6,314.9 565.1,315.21 565.6,314.79 566.1,314.76 566.6,314.62 567.1,314.66 567.6,314.37 568.1,314.18 568.6,313.25 569,312.94 569.1,313.01 569.6,313.17 570.1,314.04 570.6,314.52 571.1,315.09 571.6,315.1 572.1,315.14 572.6,314.87 573.1,314.94 573.6,314.75 574.1,315.03 574.6,315.01 575.1,314.7 575.6,314.59 576.1,314.63 576.6,314.95 577.1,314.69 577.6,314.96 578.1,315.07 578.6,314.68 579.1,314.91 579.6,314.58 580.1,314.41 580.6,314.67 581.1,314.53 581.6,314.94 582.1,314.84 582.6,314.61 583.1,314.72 583.6,313.77 584.1,312.73 584.6,310.0 585.1,307.98 585.3,307.81 585.6,308.44 586.1,310.77 586.6,312.7 587.1,314.35 587.6,314.83 588.1,315.14 588.6,314.76 589.1,314.93 589.6,314.81 590.1,314.65 590.6,314.63" fill="none" stroke="#1a1a1a" stroke-width="1.4" stroke-linejoin="round"/>
<text x="395" y="305.05" font-family="'Liberation Serif', 'Times New Roman', serif" font-size="8.4" font-weight="normal" text-anchor="middle" fill="#1a1a1a">γ</text>
<text transform="translate(402 284.52) scale(1.2 1)" font-family="'Liberation Serif', 'Times New Roman', serif" font-size="6.6" font-weight="normal" text-anchor="middle" fill="#1a1a1a">α</text>
<text x="422.3" y="305.65" font-family="'Liberation Serif', 'Times New Roman', serif" font-size="8.4" font-weight="normal" text-anchor="middle" fill="#1a1a1a">γ</text>
<text x="427.5" y="301.45" font-family="'Liberation Serif', 'Times New Roman', serif" font-size="8.4" font-weight="normal" text-anchor="middle" fill="#1a1a1a">γ</text>
<text x="429.8" y="284.45" font-family="'Liberation Serif', 'Times New Roman', serif" font-size="8.4" font-weight="normal" text-anchor="middle" fill="#1a1a1a">γ</text>
<text transform="translate(435 195.32) scale(1.2 1)" font-family="'Liberation Serif', 'Times New Roman', serif" font-size="6.6" font-weight="normal" text-anchor="middle" fill="#1a1a1a" stroke="#1a1a1a" stroke-width="0.25">α</text>
<text transform="translate(460.6 283.52) scale(1.2 1)" font-family="'Liberation Serif', 'Times New Roman', serif" font-size="6.6" font-weight="normal" text-anchor="middle" fill="#1a1a1a">α</text>
<text x="466.4" y="305.05" font-family="'Liberation Serif', 'Times New Roman', serif" font-size="8.4" font-weight="normal" text-anchor="middle" fill="#1a1a1a">γ</text>
<text x="472.2" y="306.05" font-family="'Liberation Serif', 'Times New Roman', serif" font-size="8.4" font-weight="normal" text-anchor="middle" fill="#1a1a1a">γ</text>
<text transform="translate(483 275.72) scale(1.2 1)" font-family="'Liberation Serif', 'Times New Roman', serif" font-size="6.6" font-weight="normal" text-anchor="middle" fill="#1a1a1a">α</text>
<text x="491.7" y="305.85" font-family="'Liberation Serif', 'Times New Roman', serif" font-size="8.4" font-weight="normal" text-anchor="middle" fill="#1a1a1a">γ</text>
<text transform="translate(500.6 303.52) scale(1.2 1)" font-family="'Liberation Serif', 'Times New Roman', serif" font-size="6.6" font-weight="normal" text-anchor="middle" fill="#1a1a1a">α</text>
<text transform="translate(520.5 273.72) scale(1.2 1)" font-family="'Liberation Serif', 'Times New Roman', serif" font-size="6.6" font-weight="normal" text-anchor="middle" fill="#1a1a1a">α</text>
<text transform="translate(553.6 299.72) scale(1.2 1)" font-family="'Liberation Serif', 'Times New Roman', serif" font-size="6.6" font-weight="normal" text-anchor="middle" fill="#1a1a1a">α</text>
<text transform="translate(569.5 309.52) scale(1.2 1)" font-family="'Liberation Serif', 'Times New Roman', serif" font-size="6.6" font-weight="normal" text-anchor="middle" fill="#1a1a1a">α</text>
<text transform="translate(588 306.72) scale(1.2 1)" font-family="'Liberation Serif', 'Times New Roman', serif" font-size="6.6" font-weight="normal" text-anchor="middle" fill="#1a1a1a">α</text>
<text transform="translate(366.36 257.7) rotate(-90)" font-family="'Liberation Sans', Arial, sans-serif" font-size="9.2" font-weight="bold" text-anchor="middle" fill="#1a1a1a">Intensity (a.u.)</text>
<text x="494.7" y="360.05" font-family="'Liberation Sans', Arial, sans-serif" font-size="9" font-weight="bold" text-anchor="middle" fill="#1a1a1a">2 <tspan font-size="7.38" stroke="#1a1a1a" stroke-width="0.3">θ</tspan></text>
<rect x="475.5" y="192.2" width="52.8" height="22.2" fill="none" stroke="#222" stroke-width="1.3"/>
<text x="481.9" y="207.55" font-family="'Liberation Sans', Arial, sans-serif" font-size="11.5" font-weight="bold" text-anchor="start" fill="#1a1a1a" >(e)</text>
<rect x="534.3" y="187.3" width="51.5" height="30.9" fill="none" stroke="#a8a8a8" stroke-width="1.1"/>
<text transform="translate(539.9 198.32) scale(1.15 1)" font-family="'Liberation Serif', 'Times New Roman', serif" font-size="7.5" text-anchor="middle" fill="#333">α</text>
<text x="548.7" y="199.47" font-family="'Liberation Sans', Arial, sans-serif" font-size="8.2" font-weight="normal" fill="#1a1a1a" stroke="#1a1a1a" stroke-width="0.2">PblaT<tspan font-size="8" font-weight="normal" fill="#555" stroke="none">ιo</tspan><tspan font-size="5.5" dy="2.6" fill="#555" font-weight="normal" stroke="none">3</tspan></text>
<text x="538.8" y="211.66" font-family="'Liberation Serif', 'Times New Roman', serif" font-size="8.5" text-anchor="middle" fill="#333">γ</text>
<text x="547.6" y="213.47" font-family="'Liberation Sans', Arial, sans-serif" font-size="8.2" fill="#1a1a1a" stroke="#1a1a1a" stroke-width="0.2">PbO</text>
<text transform="translate(577.11 24.4) rotate(-90)" font-family="'Liberation Sans', Arial, sans-serif" font-size="6.4" fill="#3a3a3a"><tspan font-weight="bold" font-size="6.8" fill="#222">a</tspan> (110)</text>
<text transform="translate(546.61 111) rotate(-90)" font-family="'Liberation Sans', Arial, sans-serif" font-size="6.4" fill="#3a3a3a"><tspan font-weight="bold" font-size="6.8" fill="#222">a</tspan> (100)</text>
<text transform="translate(598.41 108) rotate(-90)" font-family="'Liberation Sans', Arial, sans-serif" font-size="6.4" fill="#3a3a3a"><tspan font-weight="bold" font-size="6.8" fill="#222">a</tspan> (111)</text>
<text transform="translate(619.11 105.5) rotate(-90)" font-family="'Liberation Sans', Arial, sans-serif" font-size="6.4" fill="#3a3a3a"><tspan font-weight="bold" font-size="6.8" fill="#222">a</tspan> (200)</text>
<text transform="translate(635.41 125.5) rotate(-90)" font-family="'Liberation Sans', Arial, sans-serif" font-size="6.4" fill="#3a3a3a"><tspan font-weight="bold" font-size="6.8" fill="#222">a</tspan> (210)</text>
<text transform="translate(650.91 104.5) rotate(-90)" font-family="'Liberation Sans', Arial, sans-serif" font-size="6.4" fill="#3a3a3a"><tspan font-weight="bold" font-size="6.8" fill="#222">a</tspan> (211)</text>
<text transform="translate(682.61 122.5) rotate(-90)" font-family="'Liberation Sans', Arial, sans-serif" font-size="6.4" fill="#3a3a3a"><tspan font-weight="bold" font-size="6.8" fill="#222">a</tspan> (220)</text>
<text transform="translate(697.11 133.8) rotate(-90)" font-family="'Liberation Sans', Arial, sans-serif" font-size="6.4" fill="#3a3a3a"><tspan font-weight="bold" font-size="6.8" fill="#222">a</tspan> (221)</text>
<text transform="translate(711.11 128.8) rotate(-90)" font-family="'Liberation Sans', Arial, sans-serif" font-size="6.4" fill="#3a3a3a"><tspan font-weight="bold" font-size="6.8" fill="#222">a</tspan> (300)</text>
</svg></body></html>
